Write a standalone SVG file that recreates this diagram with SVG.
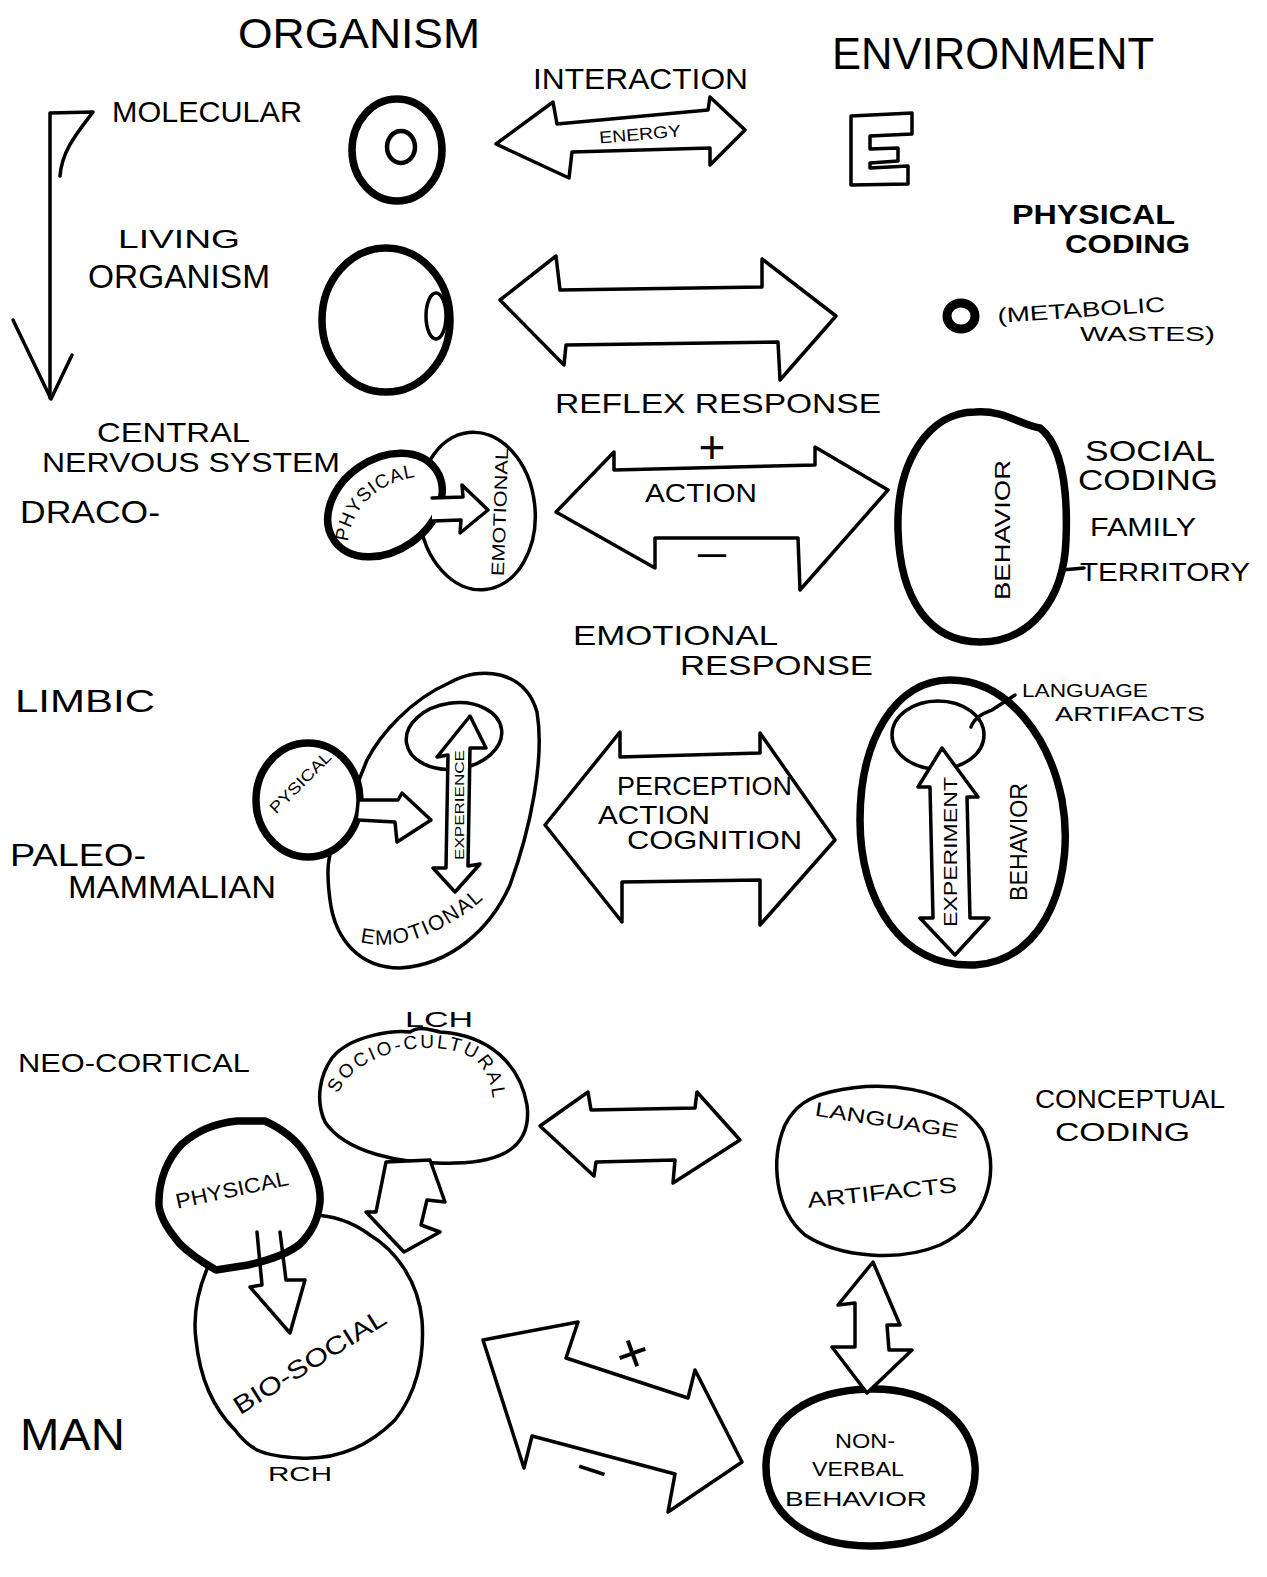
<svg xmlns="http://www.w3.org/2000/svg" width="1267" height="1577" viewBox="0 0 1267 1577">
<style>
  .ln { fill: none; stroke: #000; stroke-width: 3.5; stroke-linejoin: round; stroke-linecap: round; }
  .fw { fill: #fff; stroke: #000; stroke-width: 3.5; stroke-linejoin: round; stroke-linecap: round; }
  .mid { stroke-width: 4.5; }
  .bold { stroke-width: 7.5; }
  .xbold { stroke-width: 9; }
  text { font-family: "Liberation Sans", "DejaVu Sans", sans-serif; fill: #000; }
  .c { text-anchor: middle; }
  .b { font-weight: bold; }
</style>
<defs>
  <path id="scPath" d="M338,1094 C355,1050 440,1035 475,1060 C495,1078 497,1110 489,1137"/>
  <path id="emoPath" d="M360,942 C400,952 440,932 470,910 C490,895 502,880 514,860"/>
  <path id="phyPath" d="M348,542 C352,505 380,480 424,476"/>
</defs>
<rect width="1267" height="1577" fill="#fff"/>

<!-- column headings -->
<g id="headings">
  <text x="238" y="48" font-size="42" textLength="242" lengthAdjust="spacingAndGlyphs">ORGANISM</text>
  <text x="832" y="69" font-size="44" textLength="322" lengthAdjust="spacingAndGlyphs">ENVIRONMENT</text>
  <text x="533" y="89" font-size="29" textLength="215" lengthAdjust="spacingAndGlyphs">INTERACTION</text>
</g>

<!-- evolutionary levels down the left side -->
<g id="levels">
  <path class="ln" d="M50,398 L50,113 L93,112 C78,132 62,150 60,176"/>
  <path class="ln" d="M13,320 L51,399 L72,355"/>
  <text x="112" y="122" font-size="29" textLength="190" lengthAdjust="spacingAndGlyphs">MOLECULAR</text>
  <text x="118" y="248" font-size="25" textLength="122" lengthAdjust="spacingAndGlyphs">LIVING</text>
  <text x="88" y="288" font-size="33" textLength="182" lengthAdjust="spacingAndGlyphs">ORGANISM</text>
  <text x="97" y="442" font-size="28" textLength="153" lengthAdjust="spacingAndGlyphs">CENTRAL</text>
  <text x="42" y="472" font-size="28" textLength="298" lengthAdjust="spacingAndGlyphs">NERVOUS SYSTEM</text>
  <text x="20" y="523" font-size="31" textLength="140" lengthAdjust="spacingAndGlyphs">DRACO-</text>
  <text x="15" y="712" font-size="31" textLength="140" lengthAdjust="spacingAndGlyphs">LIMBIC</text>
  <text x="10" y="866" font-size="31" textLength="136" lengthAdjust="spacingAndGlyphs">PALEO-</text>
  <text x="68" y="898" font-size="31" textLength="208" lengthAdjust="spacingAndGlyphs">MAMMALIAN</text>
  <text x="18" y="1072" font-size="26" textLength="232" lengthAdjust="spacingAndGlyphs">NEO-CORTICAL</text>
  <text x="20" y="1450" font-size="44" textLength="105" lengthAdjust="spacingAndGlyphs">MAN</text>
</g>

<!-- molecular level -->
<g id="molecule">
  <ellipse cx="397" cy="150" rx="45" ry="51" class="ln bold"/>
  <ellipse cx="401" cy="147" rx="14" ry="16" class="ln mid"/>
</g>
<g id="env-e">
  <path class="ln" d="M851,116 L912,113 L912,134 L870,136 L870,149 L898,148 L898,161 L870,163 L870,168 L908,166 L908,184 L851,185 Z"/>
</g>
<g id="physical-coding">
  <text x="1012" y="224" font-size="27" class="b" textLength="163" lengthAdjust="spacingAndGlyphs">PHYSICAL</text>
  <text x="1065" y="253" font-size="25" class="b" textLength="125" lengthAdjust="spacingAndGlyphs">CODING</text>
</g>

<!-- living organism -->
<g id="cell">
  <ellipse cx="386" cy="320" rx="64" ry="72" class="ln bold"/>
  <ellipse cx="436" cy="316" rx="10" ry="23" class="ln"/>
</g>
<g id="wastes">
  <ellipse cx="961" cy="316" rx="14" ry="13" class="ln xbold"/>
  <text x="998" y="323" font-size="21" transform="rotate(-4 998 323)" textLength="168" lengthAdjust="spacingAndGlyphs">(METABOLIC</text>
  <text x="1080" y="341" font-size="21" textLength="135" lengthAdjust="spacingAndGlyphs">WASTES)</text>
</g>

<!-- reptilian brain -->
<g id="cns">
  <ellipse cx="477" cy="511" rx="58" ry="79" transform="rotate(-6 477 511)" class="fw"/>
  <ellipse cx="385" cy="505" rx="62" ry="46" transform="rotate(-35 385 505)" class="fw bold"/>
  <text font-size="19" letter-spacing="1"><textPath href="#phyPath">PHYSICAL</textPath></text>
  <text x="499" y="519" class="c" font-size="18" transform="rotate(-88 499 512)" textLength="128" lengthAdjust="spacingAndGlyphs">EMOTIONAL</text>
</g>
<g id="behavior-1">
  <path class="ln bold" d="M975,412 C1005,410 1020,425 1040,428 C1062,445 1068,490 1066,540 C1064,600 1030,642 980,642 C930,642 900,600 898,530 C896,460 930,412 975,412 Z"/>
  <text x="1002" y="538" class="c" font-size="22" transform="rotate(-90 1002 530)" textLength="140" lengthAdjust="spacingAndGlyphs">BEHAVIOR</text>
</g>
<g id="social-coding">
  <text x="1085" y="461" font-size="29" textLength="130" lengthAdjust="spacingAndGlyphs">SOCIAL</text>
  <text x="1078" y="490" font-size="29" textLength="140" lengthAdjust="spacingAndGlyphs">CODING</text>
  <text x="1090" y="536" font-size="25" textLength="106" lengthAdjust="spacingAndGlyphs">FAMILY</text>
  <text x="1080" y="581" font-size="25" textLength="170" lengthAdjust="spacingAndGlyphs">TERRITORY</text>
</g>

<!-- limbic brain -->
<g id="limbic">
  <path class="fw" d="M449,683 C480,665 525,670 537,712 C545,760 530,830 510,885 C490,930 450,965 400,968 C360,968 335,940 330,900 C326,870 328,855 335,840 L367,760 C380,735 410,700 449,683 Z"/>
  <ellipse cx="454" cy="736" rx="48" ry="33" transform="rotate(-8 454 736)" class="ln"/>
  <ellipse cx="308" cy="800" rx="52" ry="57" class="fw bold"/>
  <text x="300" y="788" class="c" font-size="16" transform="rotate(-45 300 782)" textLength="80" lengthAdjust="spacingAndGlyphs">PYSICAL</text>
  <text font-size="21" letter-spacing="1.5"><textPath href="#emoPath">EMOTIONAL</textPath></text>
</g>
<g id="behavior-2">
  <path class="ln bold" d="M950,680 C1010,680 1050,740 1062,800 C1075,870 1050,960 975,965 C900,968 860,900 860,820 C860,740 895,680 950,680 Z"/>
  <ellipse cx="938" cy="735" rx="46" ry="34" class="ln"/>
  <path class="ln" d="M971,727 C975,716 985,713 992,710 L1015,695"/>
  <text x="1022" y="697" font-size="18" textLength="126" lengthAdjust="spacingAndGlyphs">LANGUAGE</text>
  <text x="1055" y="721" font-size="20" textLength="150" lengthAdjust="spacingAndGlyphs">ARTIFACTS</text>
  <text x="1018" y="851" class="c" font-size="24" transform="rotate(-90 1018 842)" textLength="118" lengthAdjust="spacingAndGlyphs">BEHAVIOR</text>
</g>

<!-- human brain -->
<g id="socio-cultural">
  <path class="fw" d="M332,1058 C350,1035 395,1030 410,1032 C420,1025 430,1030 440,1032 C490,1035 520,1065 527,1105 C532,1145 505,1162 455,1163 C400,1165 345,1152 325,1122 C315,1100 320,1075 332,1058 Z"/>
  <text font-size="19" letter-spacing="2.5"><textPath href="#scPath">SOCIO-CULTURAL</textPath></text>
  <text x="405" y="1027" font-size="22" textLength="68" lengthAdjust="spacingAndGlyphs">LCH</text>
</g>
<g id="bio-social">
  <path class="fw" d="M216,1250 C200,1280 192,1310 196,1340 C200,1380 215,1410 235,1430 C250,1450 262,1456 300,1458 C340,1460 370,1445 395,1420 C415,1395 425,1360 422,1320 C418,1280 395,1250 370,1235 C350,1220 330,1215 310,1215 L260,1230 Z"/>
  <text x="310" y="1370" class="c" font-size="25" transform="rotate(-32 310 1362)" textLength="175" lengthAdjust="spacingAndGlyphs">BIO-SOCIAL</text>
  <text x="268" y="1481" font-size="21" textLength="64" lengthAdjust="spacingAndGlyphs">RCH</text>
</g>
<g id="physical-3">
  <path class="fw bold" d="M159,1206 C158,1180 168,1158 182,1144 C198,1130 215,1123 237,1121 L265,1121 C280,1128 296,1138 306,1155 C316,1172 321,1188 320,1202 C318,1220 312,1232 300,1244 C288,1254 270,1260 248,1265 L216,1270 C202,1262 190,1254 180,1244 C170,1232 161,1220 159,1206 Z"/>
  <text x="232" y="1197" class="c" font-size="21" transform="rotate(-12 232 1190)" textLength="115" lengthAdjust="spacingAndGlyphs">PHYSICAL</text>
</g>
<g id="language">
  <path class="ln" d="M830,1092 C880,1080 950,1085 982,1130 C1000,1165 992,1220 940,1245 C900,1262 840,1258 805,1235 C775,1210 770,1160 785,1125 C795,1105 810,1097 830,1092 Z"/>
  <text x="887" y="1127" class="c" font-size="20" transform="rotate(9 887 1120)" textLength="145" lengthAdjust="spacingAndGlyphs">LANGUAGE</text>
  <text x="882" y="1200" class="c" font-size="22" transform="rotate(-6 882 1192)" textLength="150" lengthAdjust="spacingAndGlyphs">ARTIFACTS</text>
</g>
<g id="conceptual-coding">
  <text x="1035" y="1108" font-size="26" textLength="190" lengthAdjust="spacingAndGlyphs">CONCEPTUAL</text>
  <text x="1055" y="1141" font-size="26" textLength="135" lengthAdjust="spacingAndGlyphs">CODING</text>
</g>
<g id="nonverbal">
  <path class="ln bold" d="M870,1389 C930,1388 972,1420 975,1465 C978,1515 935,1546 870,1546 C805,1546 765,1512 766,1465 C767,1418 810,1390 870,1389 Z"/>
  <text x="865" y="1448" class="c" font-size="21" textLength="60" lengthAdjust="spacingAndGlyphs">NON-</text>
  <text x="858" y="1476" class="c" font-size="21" textLength="92" lengthAdjust="spacingAndGlyphs">VERBAL</text>
  <text x="856" y="1506" class="c" font-size="21" textLength="142" lengthAdjust="spacingAndGlyphs">BEHAVIOR</text>
</g>

<!-- interaction arrows -->
<g id="connectors">
  <path class="fw" d="M496,144 L553,102 L557,124 L708,110 L710,97 L745,130 L710,165 L710,148 L572,152 L569,178 Z"/>
  <text x="640" y="140" class="c" font-size="17" transform="rotate(-5 640 133)" textLength="82" lengthAdjust="spacingAndGlyphs">ENERGY</text>

  <path class="fw" d="M500,300 L556,256 L560,290 L762,287 L762,259 L836,316 L780,380 L778,342 L566,345 L564,365 Z"/>

  <path class="fw" d="M432,498 L463,497 L462,485 L488,510 L460,533 L461,520 L432,521"/>

  <path class="fw" d="M556,512 L614,452 L614,470 L815,465 L815,447 L888,490 L800,590 L798,538 L655,538 L655,568 Z"/>
  <text x="712" y="463" class="c" font-size="46">+</text>
  <text x="645" y="502" font-size="26" textLength="112" lengthAdjust="spacingAndGlyphs">ACTION</text>
  <text x="712" y="569" class="c" font-size="40" textLength="34" lengthAdjust="spacingAndGlyphs">−</text>
  <text x="555" y="413" font-size="28" textLength="326" lengthAdjust="spacingAndGlyphs">REFLEX RESPONSE</text>
  <path class="ln" d="M1062,570 L1084,568"/>

  <path class="fw" d="M360,800 L398,800 L402,793 L431,820 L397,842 L395,822 L358,820"/>
  <path class="fw" d="M470,716 L486,748 L470,748 L468,866 L480,864 L455,892 L433,868 L446,868 L448,755 L437,757 Z"/>
  <text x="459" y="810" class="c" font-size="13" transform="rotate(-90 459 805)" textLength="110" lengthAdjust="spacingAndGlyphs">EXPERIENCE</text>

  <path class="fw" d="M545,825 L620,732 L620,757 L760,753 L760,733 L835,840 L760,925 L760,880 L622,882 L622,922 Z"/>
  <text x="573" y="645" font-size="28" textLength="205" lengthAdjust="spacingAndGlyphs">EMOTIONAL</text>
  <text x="680" y="675" font-size="28" textLength="193" lengthAdjust="spacingAndGlyphs">RESPONSE</text>
  <text x="617" y="795" font-size="25" textLength="175" lengthAdjust="spacingAndGlyphs">PERCEPTION</text>
  <text x="598" y="824" font-size="25" textLength="112" lengthAdjust="spacingAndGlyphs">ACTION</text>
  <text x="627" y="849" font-size="25" textLength="175" lengthAdjust="spacingAndGlyphs">COGNITION</text>

  <path class="fw" d="M942,748 L978,797 L967,797 L970,918 L989,918 L955,955 L920,918 L933,918 L930,787 L918,787 Z"/>
  <text x="951" y="858" class="c" font-size="18" transform="rotate(-90 951 852)" textLength="150" lengthAdjust="spacingAndGlyphs">EXPERIMENT</text>

  <path class="ln" d="M257,1232 L262,1285 L250,1287 L290,1333 L305,1280 L286,1280 L280,1232"/>
  <path class="fw" d="M386,1162 L430,1160 L445,1202 L427,1200 L421,1225 L440,1232 L404,1252 L366,1212 L376,1212 Z"/>
  <path class="fw" d="M540,1126 L588,1092 L591,1110 L695,1108 L697,1092 L740,1140 L673,1183 L675,1160 L596,1162 L594,1176 Z"/>
  <path class="fw" d="M873,1262 L900,1325 L887,1325 L889,1350 L912,1350 L867,1393 L832,1347 L855,1347 L855,1303 L838,1305 Z"/>
  <path class="fw" d="M483,1340 L578,1322 L566,1358 L688,1398 L695,1370 L742,1462 L668,1512 L675,1474 L532,1436 L524,1468 Z"/>
  <text x="632" y="1372" class="c" font-size="56" transform="rotate(-20 632 1352)">+</text>
  <text x="592" y="1487" class="c" font-size="50" transform="rotate(18 592 1470)" textLength="32" lengthAdjust="spacingAndGlyphs">−</text>
</g>
</svg>
